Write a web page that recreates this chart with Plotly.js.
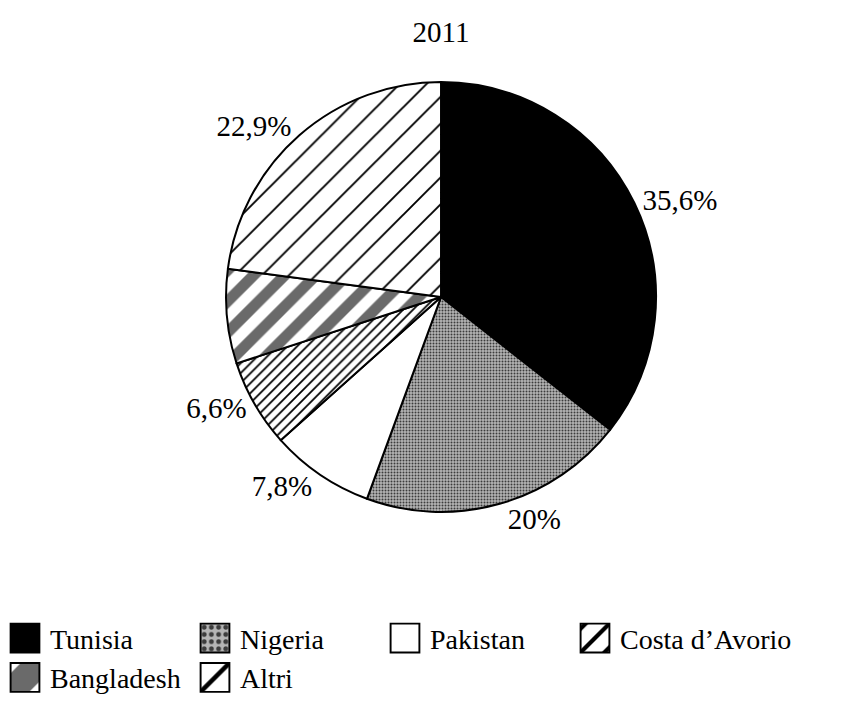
<!DOCTYPE html>
<html>
<head>
<meta charset="utf-8">
<script src="https://cdn.plot.ly/plotly-3.0.1.min.js"></script>
<style>html,body{margin:0;padding:0;background:#fff;}#chart{width:868px;height:705px;}</style>
</head>
<body>
<div id="chart"></div>
<script>
// Data
const countries = ["Tunisia", "Nigeria", "Pakistan", "Costa d\u2019Avorio", "Bangladesh", "Altri"];
const shares = [35.6, 20, 7.8, 6.6, 7.1, 22.9];
const shareLabels = ["35,6%", "20%", "7,8%", "6,6%", "", "22,9%"];
const chartTitle = "2011";

// Styles
const fillColors = ["#000000", "#b5b5b5", "#ffffff", "#ffffff", "#ffffff", "#ffffff"];
const patternShapes = ["", ".", "", "/", "/", "/"];
const patternFg = ["#000000", "#3c3c3c", "#000000", "#000000", "#6a6a6a", "#000000"];
const patternSize = [8, 3, 8, 7, 22, 19];
const patternSolidity = [0.2, 0.35, 0.2, 0.25, 0.5, 0.1];

const font = "'Liberation Serif', 'DejaVu Serif', serif";

const trace = {
  type: "pie",
  labels: countries,
  values: shares,
  text: shareLabels,
  textinfo: "text",
  texttemplate: "%{text}",
  textposition: "outside",
  outsidetextfont: {family: font, size: 29, color: "#000"},
  sort: false,
  direction: "clockwise",
  rotation: 0,
  hole: 0,
  domain: {x: [0.2604, 0.7558], y: [0.2738, 0.8837]},
  marker: {
    colors: fillColors,
    line: {color: "#000", width: 2},
    pattern: {
      shape: patternShapes,
      fgcolor: patternFg,
      bgcolor: fillColors,
      size: patternSize,
      solidity: patternSolidity,
      fillmode: "replace"
    }
  },
  hoverinfo: "label+percent"
};

const layout = {
  width: 868,
  height: 705,
  margin: {l: 0, r: 0, t: 0, b: 0},
  paper_bgcolor: "#fff",
  plot_bgcolor: "#fff",
  font: {family: font, color: "#000"},
  title: {
    text: chartTitle,
    font: {family: font, size: 29, color: "#000"},
    x: 0.508, xanchor: "center",
    y: 0.955, yanchor: "middle"
  },
  showlegend: true,
  legend: {
    orientation: "h",
    x: 0.0, xanchor: "left",
    y: 0.13, yanchor: "top",
    font: {family: font, size: 28, color: "#000"},
    entrywidth: 135,
    entrywidthmode: "pixels",
    itemwidth: 40,
    tracegroupgap: 0,
    traceorder: "normal"
  }
};

function fixLegend() {
  document.querySelectorAll("#chart .legend .legendpoints path").forEach(function (p) {
    p.setAttribute("transform", "translate(25,0) scale(2.4)");
    p.style.strokeWidth = "0.8px";
  });
  document.querySelectorAll("#chart .legend, #chart .legend *").forEach(function (el) {
    if (el.hasAttribute("clip-path")) el.removeAttribute("clip-path");
    if (el.style && el.style.clipPath) el.style.clipPath = "";
  });
}

Plotly.newPlot("chart", [trace], layout, {displayModeBar: false, staticPlot: true}).then(function (gd) {
  fixLegend();
  gd.on("plotly_afterplot", fixLegend);
});
</script>
</body>
</html>
